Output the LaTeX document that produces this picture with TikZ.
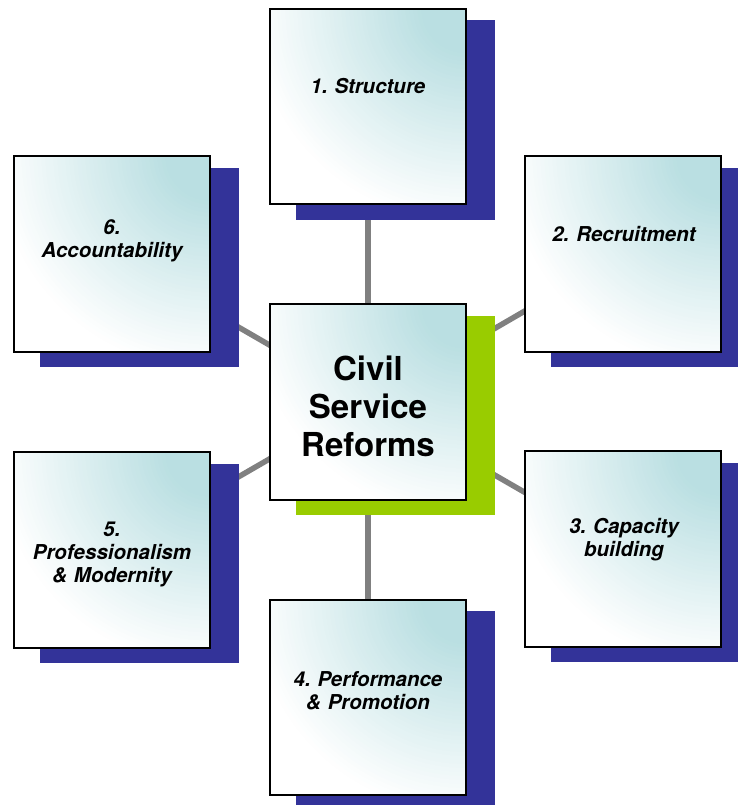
\documentclass[tikz,border=0pt]{standalone}
\usepackage{fontspec}
\setmainfont{TeX Gyre Heros}
\frenchspacing
\definecolor{tealc}{RGB}{186,223,226}
\definecolor{shadowblue}{RGB}{51,51,153}
\definecolor{shadowgreen}{RGB}{153,204,0}
\definecolor{linkgray}{RGB}{128,128,128}
\pgfdeclarelayer{back}
\pgfdeclarelayer{mid}
\pgfsetlayers{back,mid,main}
\tikzset{
  box/.style={draw=black, line width=2pt, fill=white, minimum width=195.5pt, minimum height=195.5pt, inner sep=0pt,
    path picture={
      \foreach \r in {240,236,...,4}{
        \pgfmathsetmacro\p{max(0,min(100,(215-\r)/1.7))}
        \fill[tealc!\p!white] (path picture bounding box.north east) circle (\r pt);
      }
    }},
  label/.style={anchor=base, inner sep=0pt, text width=190pt, align=center,
    font=\fontsize{20.5}{23}\selectfont\bfseries\itshape},
  centrelabel/.style={anchor=base, inner sep=0pt, text width=190pt, align=center,
    font=\fontsize{33}{38}\selectfont\bfseries},
  link/.style={draw=linkgray, line width=5.5pt},
  blueshadow/.style={fill=shadowblue},
  greenshadow/.style={fill=shadowgreen}
}
\begin{document}
\begin{tikzpicture}[x=1pt,y=-1pt]
\useasboundingbox (0,0) rectangle (737,805);
% boxes
\node[box] (c)  at (368,402) {};
\node[box] (b1) at (368,106.5) {};
\node[box] (b2) at (623,254) {};
\node[box] (b3) at (623,549) {};
\node[box] (b4) at (368,697.5) {};
\node[box] (b5) at (112,550) {};
\node[box] (b6) at (112,254) {};
% texts
\node[label] (t1) at (368,94) {1. Structure};
\node[label] (t2) at (624,241.7) {2. Recruitment};
\node[label] (t3) at (624,533) {3. Capacity\\building};
\node[label] (t4) at (368,686) {4. Performance\\\& Promotion};
\node[label] (t5) at (112,536.7) {5.\\Professionalism\\\& Modernity};
\node[label] (t6) at (112,234.3) {6.\\Accountability};
\node[centrelabel] (tc) at (368,380) {Civil\\Service\\Reforms};
% shadows
\begin{pgfonlayer}{mid}
\fill[greenshadow] ([shift={(26.5,12.5)}]c.north west) rectangle ([shift={(28.5,14.5)}]c.south east);
\foreach \b in {b1,b2,b3,b4,b5,b6}{
  \fill[blueshadow] ([shift={(26.5,12.5)}]\b.north west) rectangle ([shift={(28.5,14.5)}]\b.south east);
}
\end{pgfonlayer}
% connectors
\begin{pgfonlayer}{back}
\foreach \b in {b1,b2,b3,b4,b5,b6}{
  \draw[link] (c.center) -- (\b.center);
}
\end{pgfonlayer}
\end{tikzpicture}
\end{document}
